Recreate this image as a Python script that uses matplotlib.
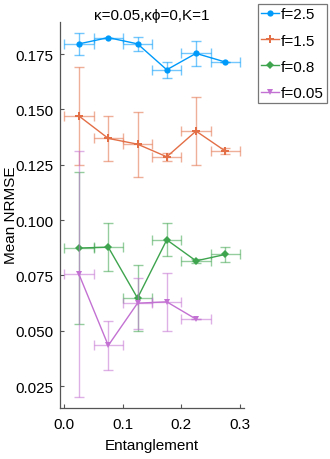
import numpy as np
import matplotlib.pyplot as plt

# data
entanglement = [0.025, 0.075, 0.125, 0.175, 0.225, 0.275]
x_halfwidth = 0.025

f25_mean = [0.1796, 0.1824, 0.1796, 0.1679, 0.1753, 0.1714]
f25_err = [0.0050, 0.0, 0.0033, 0.0037, 0.0058, 0.0]

f15_mean = [0.1470, 0.1369, 0.1343, 0.1286, 0.1402, 0.1312]
f15_err = [0.0220, 0.0100, 0.0147, 0.0019, 0.0153, 0.0015]

f08_mean = [0.0874, 0.0878, 0.0648, 0.0911, 0.0816, 0.0845]
f08_err = [0.0343, 0.0108, 0.0148, 0.0075, 0.0010, 0.0033]

f005_x = [0.025, 0.075, 0.125, 0.175, 0.225]
f005_mean = [0.0755, 0.0434, 0.0625, 0.0631, 0.0553]
f005_err = [0.0555, 0.0112, 0.0115, 0.0130, 0.0]

series = [
    ("f=2.5", entanglement, f25_mean, f25_err, "#009AFA", "o", 4.5),
    ("f=1.5", entanglement, f15_mean, f15_err, "#E36F47", "P", 6.0),
    ("f=0.8", entanglement, f08_mean, f08_err, "#3EA44E", "D", 4.0),
    ("f=0.05", f005_x, f005_mean, f005_err, "#C371D2", "v", 4.5),
]

plt.rcParams['font.family'] = ['Liberation Sans', 'DejaVu Sans']
plt.rcParams['font.size'] = 11

fig = plt.figure(figsize=(3.3, 4.6), dpi=100)
ax = fig.add_axes([60 / 330, 1 - 408.7 / 460, 184 / 330, 386 / 460])

handles = []
for label, xs, ys, errs, color, marker, ms in series:
    ax.errorbar(xs, ys, yerr=errs, xerr=x_halfwidth, fmt='none',
                ecolor=color, alpha=0.55, elinewidth=1.0, capsize=3.5,
                capthick=1.0)
    h, = ax.plot(xs, ys, color=color, lw=1.0, marker=marker, ms=ms,
                 markeredgewidth=0, label=label)
    handles.append(h)

ax.set_xlim(-0.0075, 0.307)
ax.set_ylim(0.0153, 0.1896)
ax.set_xticks([0.0, 0.1, 0.2, 0.3])
ax.set_yticks([0.025, 0.050, 0.075, 0.100, 0.125, 0.150, 0.175])
ax.set_yticklabels(["0.025", "0.050", "0.075", "0.100", "0.125", "0.150", "0.175"])
ax.tick_params(direction='in', length=3, width=0.8, color='#555555')
ax.tick_params(axis='y', pad=5)
ax.tick_params(axis='x', pad=7)
for side in ['top', 'right']:
    ax.spines[side].set_visible(False)
for side in ['left', 'bottom']:
    ax.spines[side].set_color('#555555')
    ax.spines[side].set_linewidth(0.9)

ax.set_title("κ=0.05,κϕ=0,K=1", fontsize=11, pad=-3)
ax.set_xlabel("Entanglement", labelpad=5)
ax.set_ylabel("Mean NRMSE", labelpad=-2)

leg = fig.legend(handles=handles, loc='upper right',
                 bbox_to_anchor=(327 / 330, 1 - 5 / 460),
                 frameon=True, fancybox=False, handlelength=1.2,
                 handletextpad=0.1, borderpad=0.22, labelspacing=0.8,
                 borderaxespad=0)
leg.get_frame().set_edgecolor('#555555')
leg.get_frame().set_linewidth(0.9)

fig.savefig("out.png", dpi=100)
